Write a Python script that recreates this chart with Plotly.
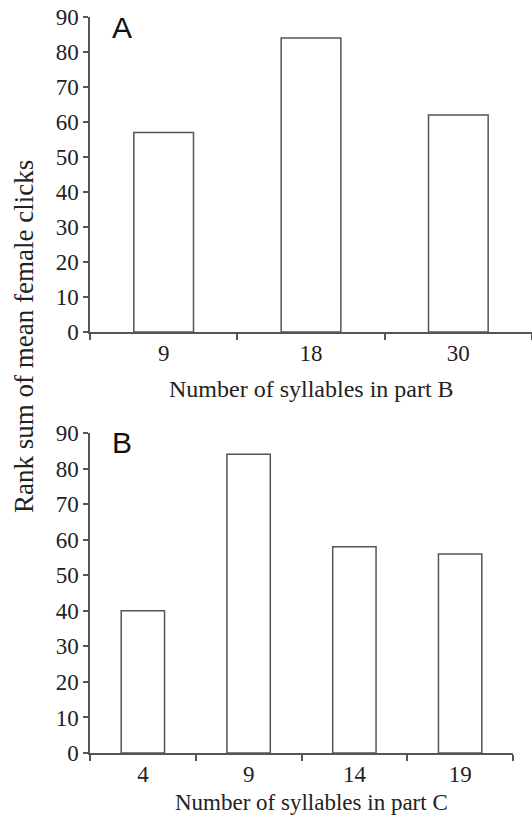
import plotly.graph_objects as go

# Data
cats_a = ["9", "18", "30"]
vals_a = [57, 84, 62]
cats_b = ["4", "9", "14", "19"]
vals_b = [40, 84, 58, 56]
yticks = [0, 10, 20, 30, 40, 50, 60, 70, 80, 90]

W, H = 532, 817
ML, MR, MT, MB = 90, 0, 17, 64
PW, PH = W - ML - MR, H - MT - MB

def px(x):
    return (x - ML) / PW

def py(y):
    return (H - MB - y) / PH

line_col = "#555555"
txt_col = "#222222"
serif = "Liberation Serif, Times New Roman, serif"
sans = "Liberation Sans, Arial, sans-serif"

fig = go.Figure()
fig.add_trace(go.Bar(x=cats_a, y=vals_a, width=0.405,
                     marker=dict(color="white", line=dict(color=line_col, width=1.5)),
                     xaxis="x", yaxis="y", showlegend=False))
fig.add_trace(go.Bar(x=cats_b, y=vals_b, width=0.41,
                     marker=dict(color="white", line=dict(color=line_col, width=1.5)),
                     xaxis="x2", yaxis="y2", showlegend=False))

def xax(domain, anchor):
    return dict(domain=domain, anchor=anchor, type="category", showline=True, linecolor=line_col, linewidth=1.5,
                ticks="outside", tickson="boundaries", ticklen=6, tickcolor=line_col, tickwidth=1.5,
                showgrid=False, zeroline=False, automargin=False,
                tickfont=dict(family=serif, size=23, color=txt_col), fixedrange=True)

def yax(domain, anchor):
    return dict(domain=domain, anchor=anchor, range=[0, 90], tickvals=yticks, showline=True, linecolor=line_col,
                linewidth=1.5, ticks="outside", ticklen=5, tickcolor=line_col, tickwidth=1.5, showgrid=False,
                zeroline=False, automargin=False,
                tickfont=dict(family=serif, size=23, color=txt_col), fixedrange=True)

fig.update_layout(
    width=W, height=H, margin=dict(l=ML, r=MR, t=MT, b=MB, autoexpand=False),
    plot_bgcolor="white", paper_bgcolor="white",
    xaxis=xax([0, 1.0], "y"),
    yaxis=yax([py(332), py(17)], "x"),
    xaxis2=xax([0, px(513)], "y2"),
    yaxis2=yax([py(753), py(433)], "x2"),
    annotations=[
        dict(text="A", x=px(110), y=py(27), xref="paper", yref="paper", xanchor="left", yanchor="middle",
             showarrow=False, font=dict(family=sans, size=30, color="#111111")),
        dict(text="B", x=px(110), y=py(442), xref="paper", yref="paper", xanchor="left", yanchor="middle",
             showarrow=False, font=dict(family=sans, size=30, color="#111111")),
        dict(text="Number of syllables in part B", x=px(311), y=py(389), xref="paper", yref="paper",
             xanchor="center", yanchor="middle", showarrow=False, font=dict(family=serif, size=24, color=txt_col)),
        dict(text="Number of syllables in part C", x=px(311), y=py(803), xref="paper", yref="paper",
             xanchor="center", yanchor="middle", showarrow=False, font=dict(family=serif, size=23, color=txt_col)),
        dict(text="Rank sum of mean female clicks", x=px(24), y=py(337), xref="paper", yref="paper",
             xanchor="center", yanchor="middle", textangle=-90, showarrow=False,
             font=dict(family=serif, size=27, color=txt_col)),
    ],
)

fig.write_html("out.html", config={"displayModeBar": False},
               post_script="document.body.style.margin='0';document.body.style.overflow='hidden';")
